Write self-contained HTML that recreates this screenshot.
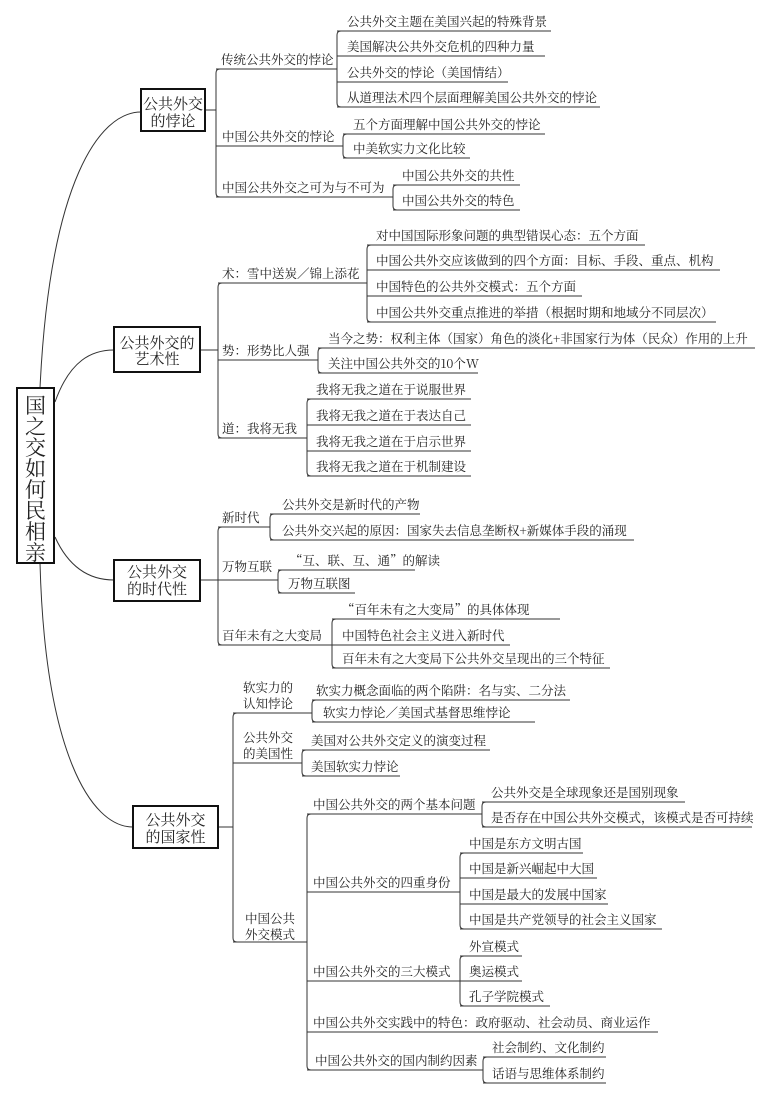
<!DOCTYPE html>
<html><head><meta charset="utf-8"><style>
html,body{margin:0;padding:0;background:#fff}
svg{display:block}
text{font-family:"Noto Serif CJK SC","Liberation Serif",serif;fill:#222;font-size:12.5px}
.b{font-size:15px;text-anchor:middle}
.r{font-size:21px;text-anchor:middle}
</style></head><body>
<svg width="768" height="1100" viewBox="0 0 768 1100" xmlns="http://www.w3.org/2000/svg">
<g fill="none" stroke="#333" stroke-width="1">
<path d="M40,388 C50,180 100,112 141,112"/>
<path d="M55,402 C70,360 92,350 114,350"/>
<path d="M55,537 C70,570 92,580 114,580"/>
<path d="M40,563 C45,750 90,827 133,827"/>

<path d="M205,110 H216"/>
<path d="M220,69 Q216,69 216,73 V193 Q216,197 220,197"/>
<path d="M216,69 H337 M216,146 H343 M216,197 H393"/>
<path d="M341,31 Q337,31 337,35 V103 Q337,107 341,107"/>
<path d="M337,31 H551 M337,56 H545 M337,82 H508 M337,107 H600"/>
<path d="M347,134 Q343,134 343,138 V154 Q343,158 347,158"/>
<path d="M343,134 H545 M343,158 H470"/>
<path d="M397,185 Q393,185 393,189 V206 Q393,210 397,210"/>
<path d="M393,185 H520 M393,210 H520"/>

<path d="M200,350 H218"/>
<path d="M222,283 Q218,283 218,287 V434 Q218,438 222,438"/>
<path d="M218,283 H367 M218,360 H318 M218,438 H307"/>
<path d="M371,245 Q367,245 367,249 V318 Q367,322 371,322"/>
<path d="M367,245 H645 M367,270 H720 M367,296 H582 M367,322 H716"/>
<path d="M322,348 Q318,348 318,352 V369 Q318,373 322,373"/>
<path d="M318,348 H755 M318,373 H478"/>
<path d="M311,399 Q307,399 307,403 V472 Q307,476 311,476"/>
<path d="M307,399 H471 M307,425 H471 M307,451 H471 M307,476 H471"/>

<path d="M200,580 H278"/>
<path d="M222,527 Q218,527 218,531 V641 Q218,645 222,645"/>
<path d="M218,527 H270 M218,645 H332"/>
<path d="M274,514 Q270,514 270,518 V536 Q270,540 274,540"/>
<path d="M270,514 H420 M270,540 H634"/>
<path d="M282,570 Q278,570 278,574 V589 Q278,593 282,593"/>
<path d="M278,570 H415 M278,593 H355"/>
<path d="M336,619 Q332,619 332,623 V664 Q332,668 336,668"/>
<path d="M332,619 H560 M332,645 H510 M332,668 H610"/>

<path d="M218,827 H233"/>
<path d="M237,713 Q233,713 233,717 V938 Q233,942 237,942"/>
<path d="M233,713 H312 M233,763 H302 M233,942 H307"/>
<path d="M316,700 Q312,700 312,704 V718 Q312,722 316,722"/>
<path d="M312,700 H570 M312,722 H535"/>
<path d="M306,750 Q302,750 302,754 V772 Q302,776 306,776"/>
<path d="M302,750 H490 M302,776 H400"/>
<path d="M311,814 Q307,814 307,818 V1066 Q307,1070 311,1070"/>
<path d="M307,814 H482 M307,892 H460 M307,981 H460 M307,1032 H658 M307,1070 H483"/>
<path d="M486,802 Q482,802 482,806 V823 Q482,827 486,827"/>
<path d="M482,802 H685 M482,827 H752"/>
<path d="M464,853 Q460,853 460,857 V925 Q460,929 464,929"/>
<path d="M460,853 H583 M460,878 H597 M460,904 H608 M460,929 H662"/>
<path d="M464,956 Q460,956 460,960 V1002 Q460,1006 464,1006"/>
<path d="M460,956 H522 M460,981 H522 M460,1006 H550"/>
<path d="M487,1057 Q483,1057 483,1061 V1079 Q483,1083 487,1083"/>
<path d="M483,1057 H606 M483,1083 H606"/>
</g>
<g fill="#fff" stroke="#111" stroke-width="2">
<rect x="17" y="388" width="37" height="175"/>
<rect x="141" y="89" width="64" height="42"/>
<rect x="114" y="327" width="86" height="45"/>
<rect x="114" y="560" width="86" height="41"/>
<rect x="133" y="806" width="85" height="42"/>
</g>
<text class="r" x="35.5" y="413">国</text>
<text class="r" x="35.5" y="434">之</text>
<text class="r" x="35.5" y="455">交</text>
<text class="r" x="35.5" y="476">如</text>
<text class="r" x="35.5" y="497">何</text>
<text class="r" x="35.5" y="518">民</text>
<text class="r" x="35.5" y="539">相</text>
<text class="r" x="35.5" y="560">亲</text>
<text class="b" x="173" y="109">公共外交</text><text class="b" x="173" y="126">的悖论</text>
<text class="b" x="157" y="348">公共外交的</text><text class="b" x="157" y="364">艺术性</text>
<text class="b" x="157" y="577">公共外交</text><text class="b" x="157" y="594">的时代性</text>
<text class="b" x="175.5" y="825">公共外交</text><text class="b" x="175.5" y="842">的国家性</text>

<text x="221" y="64">传统公共外交的悖论</text>
<text x="222" y="141">中国公共外交的悖论</text>
<text x="222" y="192">中国公共外交之可为与不可为</text>
<text x="347" y="26">公共外交主题在美国兴起的特殊背景</text>
<text x="347" y="51">美国解决公共外交危机的四种力量</text>
<text x="347" y="77">公共外交的悖论（美国情结）</text>
<text x="347" y="102">从道理法术四个层面理解美国公共外交的悖论</text>
<text x="353" y="129">五个方面理解中国公共外交的悖论</text>
<text x="353" y="153">中美软实力文化比较</text>
<text x="402" y="180">中国公共外交的共性</text>
<text x="402" y="205">中国公共外交的特色</text>

<text x="222" y="278">术：雪中送炭／锦上添花</text>
<text x="222" y="355">势：形势比人强</text>
<text x="222" y="433">道：我将无我</text>
<text x="376" y="240">对中国国际形象问题的典型错误心态：五个方面</text>
<text x="376" y="265">中国公共外交应该做到的四个方面：目标、手段、重点、机构</text>
<text x="376" y="291">中国特色的公共外交模式：五个方面</text>
<text x="376" y="317">中国公共外交重点推进的举措（根据时期和地域分不同层次）</text>
<text x="328" y="343">当今之势：权利主体（国家）角色的淡化+非国家行为体（民众）作用的上升</text>
<text x="328" y="368">关注中国公共外交的10个W</text>
<text x="316" y="394">我将无我之道在于说服世界</text>
<text x="316" y="420">我将无我之道在于表达自己</text>
<text x="316" y="446">我将无我之道在于启示世界</text>
<text x="316" y="471">我将无我之道在于机制建设</text>

<text x="222" y="522">新时代</text>
<text x="222" y="571">万物互联</text>
<text x="222" y="640">百年未有之大变局</text>
<text x="282" y="509">公共外交是新时代的产物</text>
<text x="282" y="535">公共外交兴起的原因：国家失去信息垄断权+新媒体手段的涌现</text>
<text x="290" y="565">“互、联、互、通”的解读</text>
<text x="288" y="588">万物互联图</text>
<text x="342" y="614">“百年未有之大变局”的具体体现</text>
<text x="342" y="640">中国特色社会主义进入新时代</text>
<text x="342" y="663">百年未有之大变局下公共外交呈现出的三个特征</text>

<text x="243" y="692">软实力的</text><text x="243" y="708">认知悖论</text>
<text x="243" y="742">公共外交</text><text x="243" y="758">的美国性</text>
<text x="245" y="923">中国公共</text><text x="245" y="939">外交模式</text>
<text x="316" y="695">软实力概念面临的两个陷阱：名与实、二分法</text>
<text x="323" y="717">软实力悖论／美国式基督思维悖论</text>
<text x="311" y="745">美国对公共外交定义的演变过程</text>
<text x="311" y="771">美国软实力悖论</text>
<text x="313" y="809">中国公共外交的两个基本问题</text>
<text x="313" y="887">中国公共外交的四重身份</text>
<text x="313" y="976">中国公共外交的三大模式</text>
<text x="313" y="1027">中国公共外交实践中的特色：政府驱动、社会动员、商业运作</text>
<text x="315" y="1065">中国公共外交的国内制约因素</text>
<text x="491" y="797">公共外交是全球现象还是国别现象</text>
<text x="491" y="822">是否存在中国公共外交模式，该模式是否可持续</text>
<text x="469" y="848">中国是东方文明古国</text>
<text x="469" y="873">中国是新兴崛起中大国</text>
<text x="469" y="899">中国是最大的发展中国家</text>
<text x="469" y="924">中国是共产党领导的社会主义国家</text>
<text x="469" y="951">外宣模式</text>
<text x="469" y="976">奥运模式</text>
<text x="469" y="1001">孔子学院模式</text>
<text x="492" y="1052">社会制约、文化制约</text>
<text x="492" y="1078">话语与思维体系制约</text>
</svg>
</body></html>
